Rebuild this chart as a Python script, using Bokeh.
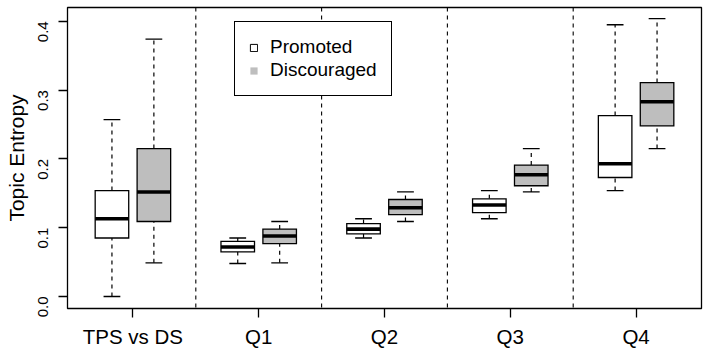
import math
from bokeh.plotting import figure
from bokeh.models import (ColumnDataSource, FixedTicker, PrintfTickFormatter, Span,
                          Legend, LegendItem, Range1d)
from bokeh.transform import dodge
from bokeh.embed import file_html
from bokeh.resources import INLINE

# ---- data ----
categories = ["TPS vs DS", "Q1", "Q2", "Q3", "Q4"]
series_names = ["Promoted", "Discouraged"]

# five-number summaries: lower whisker, Q1, median, Q3, upper whisker
promoted_low = [0.000, 0.048, 0.085, 0.113, 0.154]
promoted_q1 = [0.085, 0.065, 0.091, 0.122, 0.173]
promoted_med = [0.113, 0.072, 0.098, 0.133, 0.193]
promoted_q3 = [0.154, 0.080, 0.106, 0.142, 0.263]
promoted_high = [0.257, 0.085, 0.113, 0.154, 0.395]

discouraged_low = [0.049, 0.049, 0.109, 0.152, 0.215]
discouraged_q1 = [0.109, 0.077, 0.119, 0.161, 0.248]
discouraged_med = [0.152, 0.088, 0.129, 0.177, 0.283]
discouraged_q3 = [0.215, 0.098, 0.141, 0.191, 0.311]
discouraged_high = [0.374, 0.109, 0.152, 0.215, 0.404]

y_ticks = [0.0, 0.1, 0.2, 0.3, 0.4]

# ---- layout helpers ----
n = len(categories)
pos_p = [3 * i + 1 for i in range(n)]
pos_d = [3 * i + 2 for i in range(n)]
tick_pos = [3 * i + 1.5 for i in range(n)]
sep_pos = [3 * i + 3 for i in range(n - 1)]

BOX_W = 0.8
CAP_W = 0.4
FONT = "Liberation Sans"
LW = 1.3
NAN = float("nan")

span_x = pos_d[-1] - pos_p[0] + 1
x_lo = 0.5 - 0.04 * span_x
x_hi = pos_d[-1] + 0.5 + 0.04 * span_x

p = figure(width=708, height=350, output_backend="svg", toolbar_location=None,
           x_range=Range1d(x_lo, x_hi), y_range=Range1d(-0.01744, 0.42006),
           min_border_left=67, min_border_right=7, min_border_top=7,
           min_border_bottom=42)
p.background_fill_color = "white"
p.border_fill_color = "white"
p.outline_line_color = "black"
p.outline_line_width = LW
p.xgrid.visible = False
p.ygrid.visible = False

for sep in sep_pos:
    p.add_layout(Span(location=sep, dimension="height", line_color="black",
                      line_width=1.1, line_dash="4 4", level="underlay"))


def draw_boxes(xs, low, q1, med, q3, high, fill):
    src = ColumnDataSource(dict(x=xs, low=low, q1=q1, med=med, q3=q3, high=high))
    common = dict(source=src, line_color="black")
    p.segment(x0="x", y0="q3", x1="x", y1="high", line_width=1.2, line_dash="4 4", **common)
    p.segment(x0="x", y0="low", x1="x", y1="q1", line_width=1.2, line_dash="4 4", **common)
    p.segment(x0=dodge("x", -CAP_W / 2), x1=dodge("x", CAP_W / 2), y0="high", y1="high",
              line_width=LW, **common)
    p.segment(x0=dodge("x", -CAP_W / 2), x1=dodge("x", CAP_W / 2), y0="low", y1="low",
              line_width=LW, **common)
    p.vbar(x="x", width=BOX_W, bottom="q1", top="q3", fill_color=fill,
           line_width=LW, line_join="miter", **common)
    p.segment(x0=dodge("x", -BOX_W / 2), x1=dodge("x", BOX_W / 2), y0="med", y1="med",
              line_width=3.6, line_cap="butt", **common)


draw_boxes(pos_p, promoted_low, promoted_q1, promoted_med, promoted_q3, promoted_high, "white")
draw_boxes(pos_d, discouraged_low, discouraged_q1, discouraged_med, discouraged_q3,
           discouraged_high, "#BEBEBE")

# axes
p.xaxis.ticker = FixedTicker(ticks=tick_pos)
p.xaxis.major_label_overrides = {t: c for t, c in zip(tick_pos, categories)}
p.xaxis.major_tick_out = 9
p.xaxis.major_tick_in = 0
p.xaxis.minor_tick_line_color = None
p.xaxis.axis_line_color = None
p.xaxis.major_tick_line_width = LW
p.xaxis.major_label_standoff = 7
p.xaxis.major_label_text_font = FONT
p.xaxis.major_label_text_font_size = "20.5px"
p.xaxis.major_label_text_color = "black"

p.yaxis.ticker = FixedTicker(ticks=y_ticks)
p.yaxis.formatter = PrintfTickFormatter(format="%.1f")
p.yaxis.major_label_orientation = math.pi / 2
p.yaxis.major_tick_out = 9
p.yaxis.major_tick_in = 0
p.yaxis.minor_tick_line_color = None
p.yaxis.axis_line_color = None
p.yaxis.major_tick_line_width = LW
p.yaxis.major_label_standoff = 15
p.yaxis.major_label_text_font = FONT
p.yaxis.major_label_text_font_size = "15px"
p.yaxis.major_label_text_color = "black"
p.yaxis.axis_label = "Topic Entropy"
p.yaxis.axis_label_standoff = 3
p.yaxis.axis_label_text_font = FONT
p.yaxis.axis_label_text_font_size = "21px"
p.yaxis.axis_label_text_font_style = "normal"
p.yaxis.axis_label_text_color = "black"

# legend
r_p = p.quad(left=[NAN], right=[NAN], top=[NAN], bottom=[NAN], fill_color="white",
             line_color="black", line_width=1)
r_d = p.quad(left=[NAN], right=[NAN], top=[NAN], bottom=[NAN], fill_color="#BEBEBE",
             line_color=None)
legend = Legend(items=[LegendItem(label=series_names[0], renderers=[r_p]),
                       LegendItem(label=series_names[1], renderers=[r_d])],
                location=(167, 212), margin=0, padding=14, spacing=1,
                glyph_width=9, glyph_height=9, label_standoff=12, label_height=20,
                border_line_color="black", border_line_width=LW, border_line_alpha=1.0,
                background_fill_color="white", background_fill_alpha=1.0,
                label_text_font=FONT, label_text_font_size="19px",
                label_text_color="black")
p.add_layout(legend)

open("out.html", "w").write(file_html(p, INLINE))
